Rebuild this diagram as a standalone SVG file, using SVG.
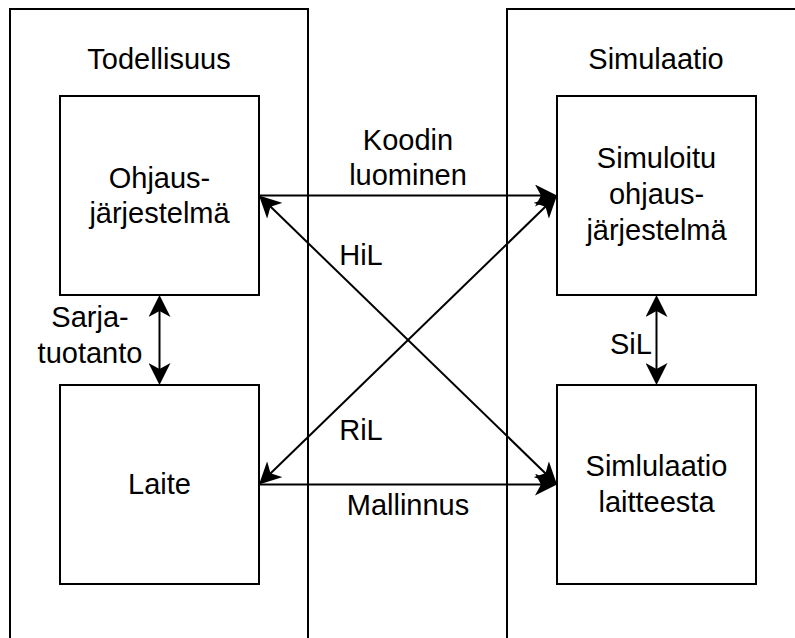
<svg xmlns="http://www.w3.org/2000/svg" width="795" height="638" viewBox="0 0 795 638">
  <style>
    .frame { fill: #ffffff; stroke: #000000; stroke-width: 2; }
    .box { fill: #ffffff; stroke: #000000; stroke-width: 2; }
    .edge { fill: none; stroke: #000000; stroke-width: 2; }
    text { font-family: "Liberation Sans", Arial, sans-serif; font-size: 29px; fill: #000000; text-anchor: middle; }
  </style>
  <defs>
    <marker id="arr" viewBox="0 0 22 22" refX="14" refY="11" markerWidth="22" markerHeight="22" markerUnits="userSpaceOnUse" orient="auto-start-reverse">
      <path d="M0,0 L22,11 L0,22 L6,11 Z" fill="#000000"/>
    </marker>
  </defs>
  <rect width="795" height="638" fill="#ffffff"/>

  <g id="todellisuus">
    <rect class="frame" x="10" y="9" width="298" height="640"/>
    <text x="159" y="69">Todellisuus</text>
  </g>
  <g id="simulaatio">
    <rect class="frame" x="507" y="9" width="298" height="640"/>
    <text x="656" y="69">Simulaatio</text>
  </g>

  <g id="ohjausjarjestelma">
    <rect class="box" x="60" y="96" width="199" height="199"/>
    <text x="159.5" y="188">Ohjaus-</text>
    <text x="159.5" y="223">järjestelmä</text>
  </g>
  <g id="laite">
    <rect class="box" x="60" y="385" width="199" height="199"/>
    <text x="159.5" y="494">Laite</text>
  </g>
  <g id="simuloitu">
    <rect class="box" x="557" y="96" width="199" height="199"/>
    <text x="656.5" y="168">Simuloitu</text>
    <text x="656.5" y="204">ohjaus-</text>
    <text x="656.5" y="240">järjestelmä</text>
  </g>
  <g id="simlulaatio">
    <rect class="box" x="557" y="385" width="199" height="199"/>
    <text x="656.5" y="476">Simlulaatio</text>
    <text x="656.5" y="512">laitteesta</text>
  </g>

  <g id="connectors">
    <line class="edge" x1="259" y1="195.5" x2="549" y2="195.5" marker-end="url(#arr)"/>
    <line class="edge" x1="259" y1="484.5" x2="549" y2="484.5" marker-end="url(#arr)"/>
    <line class="edge" x1="264.75" y1="201.06" x2="551.25" y2="478.94" marker-start="url(#arr)" marker-end="url(#arr)"/>
    <line class="edge" x1="264.75" y1="478.94" x2="551.25" y2="201.06" marker-start="url(#arr)" marker-end="url(#arr)"/>
    <line class="edge" x1="159.5" y1="303" x2="159.5" y2="377" marker-start="url(#arr)" marker-end="url(#arr)"/>
    <line class="edge" x1="656.5" y1="303" x2="656.5" y2="377" marker-start="url(#arr)" marker-end="url(#arr)"/>
  </g>

  <g id="labels">
    <text x="408" y="150">Koodin</text>
    <text x="408" y="185">luominen</text>
    <text x="408" y="515">Mallinnus</text>
    <text x="361" y="265">HiL</text>
    <text x="361" y="440">RiL</text>
    <text x="90" y="327">Sarja-</text>
    <text x="90" y="363">tuotanto</text>
    <text x="631" y="354">SiL</text>
  </g>
</svg>
